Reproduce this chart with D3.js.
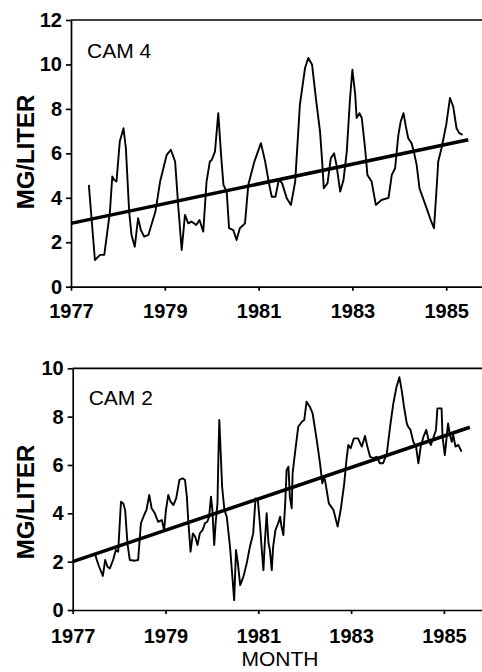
<!DOCTYPE html>
<html>
<head>
<meta charset="utf-8">
<script src="https://cdn.jsdelivr.net/npm/d3@7"></script>
<style>
body { margin: 0; background: #fff; }
.axis path, .axis line { stroke: #000; stroke-width: 1.7; }
.axis text { font-family: "Liberation Sans", Arial, sans-serif; font-weight: bold; font-size: 20px; fill: #000; }
.series { fill: none; stroke: #000; stroke-width: 1.9; stroke-linejoin: round; }
.trend { fill: none; stroke: #000; stroke-width: 3.5; }
.lbl { font-family: "Liberation Sans", Arial, sans-serif; fill: #000; }
</style>
</head>
<body>
<div id="chart-area"></div>
<script>

// Data (decimal year, mg/liter)

let yearTicks = [1977, 1979, 1981, 1983, 1985];

let cam4Years = [1977.38, 1977.51, 1977.62, 1977.71, 1977.83, 1977.88, 1977.92, 1977.97, 1978.04, 1978.12,
  1978.17, 1978.24, 1978.29, 1978.36, 1978.43, 1978.49, 1978.56, 1978.65, 1978.80, 1978.90,
  1979.04, 1979.13, 1979.22, 1979.29, 1979.36, 1979.43, 1979.50, 1979.57, 1979.67, 1979.74,
  1979.82, 1979.89, 1979.96, 1980.00, 1980.07, 1980.14, 1980.20, 1980.25, 1980.32, 1980.37,
  1980.46, 1980.53, 1980.60, 1980.71, 1980.78, 1980.91, 1981.05, 1981.14, 1981.22, 1981.28,
  1981.36, 1981.43, 1981.50, 1981.60, 1981.69, 1981.78, 1981.88, 1981.99, 1982.06, 1982.14,
  1982.23, 1982.31, 1982.36, 1982.39, 1982.47, 1982.54, 1982.61, 1982.66, 1982.74, 1982.81,
  1982.88, 1982.95, 1983.00, 1983.06, 1983.09, 1983.15, 1983.20, 1983.27, 1983.32, 1983.41,
  1983.50, 1983.62, 1983.77, 1983.84, 1983.91, 1983.98, 1984.03, 1984.09, 1984.14, 1984.19,
  1984.26, 1984.31, 1984.37, 1984.43, 1984.57, 1984.67, 1984.74, 1984.80, 1984.83, 1984.90,
  1985.00, 1985.08, 1985.15, 1985.22, 1985.28, 1985.35];

let cam4Values = [4.58, 1.2, 1.43, 1.43, 3.38, 4.96, 4.8, 4.73, 6.53, 7.13,
  6.23, 3.38, 2.33, 1.8, 3.08, 2.55, 2.25, 2.33, 3.38, 4.73,
  5.93, 6.16, 5.63, 3.53, 1.65, 3.23, 2.85, 2.93, 2.78, 3.0,
  2.48, 4.73, 5.63, 5.7, 6.08, 7.81, 5.93, 4.58, 4.28, 2.63,
  2.55, 2.1, 2.63, 2.85, 4.58, 5.63, 6.46, 5.63, 4.66, 4.05,
  4.05, 4.8, 4.66, 3.98, 3.68, 4.73, 8.18, 9.84, 10.29, 9.99,
  8.33, 6.98, 5.48, 4.43, 4.66, 5.78, 6.0, 5.48, 4.28, 4.8,
  6.08, 8.49, 9.76, 8.64, 7.59, 7.81, 7.59, 6.23, 5.03, 4.73,
  3.68, 3.9, 4.0, 5.03, 5.33, 6.83, 7.43, 7.81, 7.2, 6.68,
  6.46, 6.08, 5.48, 4.43, 3.6, 3.0, 2.63, 4.58, 5.63, 6.23,
  7.28, 8.49, 8.1, 7.13, 6.91, 6.83];

let cam4TrendYears = [1977, 1985.47];
let cam4TrendValues = [2.85, 6.61];

let cam2Years = [1977.48, 1977.52, 1977.57, 1977.65, 1977.70, 1977.75, 1977.80, 1977.87, 1977.93, 1977.98,
  1978.04, 1978.09, 1978.13, 1978.18, 1978.23, 1978.34, 1978.41, 1978.47, 1978.54, 1978.59,
  1978.65, 1978.70, 1978.77, 1978.84, 1978.92, 1978.97, 1979.01, 1979.06, 1979.11, 1979.17,
  1979.23, 1979.30, 1979.37, 1979.42, 1979.46, 1979.49, 1979.54, 1979.59, 1979.64, 1979.69,
  1979.74, 1979.80, 1979.85, 1979.90, 1979.94, 1979.98, 1980.01, 1980.05, 1980.08, 1980.12,
  1980.14, 1980.16, 1980.19, 1980.22, 1980.27, 1980.32, 1980.39, 1980.43, 1980.48, 1980.52,
  1980.56, 1980.61, 1980.68, 1980.75, 1980.82, 1980.89, 1980.94, 1980.99, 1981.04, 1981.07,
  1981.11, 1981.14, 1981.18, 1981.22, 1981.25, 1981.29, 1981.32, 1981.37, 1981.43, 1981.47,
  1981.50, 1981.54, 1981.58, 1981.61, 1981.65, 1981.68, 1981.72, 1981.74, 1981.79, 1981.86,
  1981.94, 1981.99, 1982.04, 1982.11, 1982.17, 1982.26, 1982.33, 1982.38, 1982.42, 1982.45,
  1982.52, 1982.62, 1982.71, 1982.78, 1982.85, 1982.90, 1982.94, 1982.99, 1983.06, 1983.15,
  1983.23, 1983.30, 1983.35, 1983.41, 1983.48, 1983.55, 1983.62, 1983.69, 1983.77, 1983.84,
  1983.91, 1983.98, 1984.04, 1984.09, 1984.14, 1984.20, 1984.23, 1984.28, 1984.34, 1984.40,
  1984.45, 1984.50, 1984.56, 1984.62, 1984.67, 1984.72, 1984.78, 1984.83, 1984.86, 1984.95,
  1984.97, 1985.02, 1985.06, 1985.09, 1985.13, 1985.17, 1985.20, 1985.25, 1985.31, 1985.38];

let cam2Values = [2.34, 2.07, 1.79, 1.41, 2.07, 1.79, 1.72, 2.07, 2.48, 2.41,
  4.48, 4.41, 4.14, 2.76, 2.07, 2.04, 2.07, 3.59, 3.93, 4.14,
  4.76, 4.21, 4.0, 3.65, 3.72, 3.31, 4.14, 4.76, 4.48, 4.34,
  4.62, 5.38, 5.45, 5.38, 4.69, 3.72, 2.41, 3.17, 3.03, 2.69,
  3.17, 3.31, 3.59, 3.65, 3.86, 4.69, 4.14, 2.69, 3.59, 4.41,
  6.34, 7.86, 6.48, 5.1, 4.14, 3.86, 2.62, 1.65, 0.41, 2.48,
  1.93, 1.03, 1.38, 1.93, 2.62, 3.17, 4.62, 4.55, 3.45, 2.62,
  1.65, 2.76, 4.0, 2.76, 2.48, 1.65, 2.62, 3.31, 3.59, 3.86,
  3.45, 3.1, 4.41, 5.79, 5.93, 4.69, 4.21, 5.66, 6.48, 7.58,
  7.79, 7.86, 8.62, 8.41, 8.14, 7.03, 6.07, 5.24, 5.52, 5.24,
  4.41, 4.14, 3.45, 4.2, 5.2, 6.21, 6.83, 6.69, 7.1, 7.1,
  6.76, 7.2, 6.76, 6.34, 6.28, 6.34, 6.07, 6.07, 6.48, 7.58,
  8.55, 9.24, 9.63, 9.1, 8.41, 7.72, 7.58, 7.45, 6.96, 6.76,
  6.07, 6.76, 7.17, 7.45, 7.03, 6.83, 7.17, 7.45, 8.34, 8.34,
  7.17, 6.41, 7.17, 7.72, 7.24, 6.96, 7.24, 6.76, 6.83, 6.55];

let cam2TrendYears = [1977, 1985.56];
let cam2TrendValues = [2.0, 7.56];


// SVG drawing area

let width = 482, height = 672;

let svg = d3.select("#chart-area").append("svg")
    .attr("width", width)
    .attr("height", height);


function drawPanel(p) {

  let x = d3.scaleLinear()
      .domain([1977, 1986])
      .range([p.left, p.left + 9 * p.yearPx]);

  let y = d3.scaleLinear()
      .domain([0, p.yMax])
      .range([p.bottom, p.top]);

  let g = svg.append("g");

  // frame top line
  g.append("line")
      .attr("x1", x(1977)).attr("x2", width + 10)
      .attr("y1", y(p.yMax)).attr("y2", y(p.yMax))
      .attr("stroke", "#000")
      .attr("stroke-width", 1.7);

  let yAxis = d3.axisLeft(y)
      .tickValues(d3.range(0, p.yMax + 1, 2))
      .tickSize(5)
      .tickSizeOuter(0)
      .tickPadding(4);

  let xAxis = d3.axisBottom(x)
      .tickValues(yearTicks)
      .tickFormat(d3.format("d"))
      .tickSize(4)
      .tickSizeOuter(0);

  g.append("g")
      .attr("class", "axis")
      .attr("transform", "translate(" + x(1977) + ",0)")
      .call(yAxis);

  g.append("g")
      .attr("class", "axis")
      .attr("transform", "translate(0," + y(0) + ")")
      .call(xAxis)
    .selectAll("text")
      .attr("dy", null)
      .attr("y", p.xLabelOffset);

  let line = d3.line()
      .x(d => x(d[0]))
      .y(d => y(d[1]));

  g.append("path")
      .datum(d3.zip(p.years, p.values))
      .attr("class", "series")
      .attr("d", line);

  g.append("path")
      .datum(d3.zip(p.trendYears, p.trendValues))
      .attr("class", "trend")
      .attr("d", line);

  g.append("text")
      .attr("class", "lbl")
      .attr("x", x(1977) + 16)
      .attr("y", p.nameY)
      .style("font-size", "21px")
      .text(p.name);

  g.append("text")
      .attr("class", "lbl")
      .attr("transform", "translate(34," + p.yTitleY + ") rotate(-90)")
      .attr("text-anchor", "middle")
      .style("font-size", "24px")
      .style("font-weight", "bold")
      .text("MG/LITER");

  return x;
}

drawPanel({
  left: 71, yearPx: 46.9, top: 20, bottom: 286.7, yMax: 12,
  years: cam4Years, values: cam4Values,
  trendYears: cam4TrendYears, trendValues: cam4TrendValues,
  name: "CAM 4", nameY: 58, yTitleY: 152, xLabelOffset: 31
});

drawPanel({
  left: 72.7, yearPx: 46.4, top: 368.3, bottom: 610, yMax: 10,
  years: cam2Years, values: cam2Values,
  trendYears: cam2TrendYears, trendValues: cam2TrendValues,
  name: "CAM 2", nameY: 405, yTitleY: 502, xLabelOffset: 33
});

svg.append("text")
    .attr("class", "lbl")
    .attr("x", 280)
    .attr("y", 666)
    .attr("text-anchor", "middle")
    .style("font-size", "21px")
    .text("MONTH");

</script>
</body>
</html>
